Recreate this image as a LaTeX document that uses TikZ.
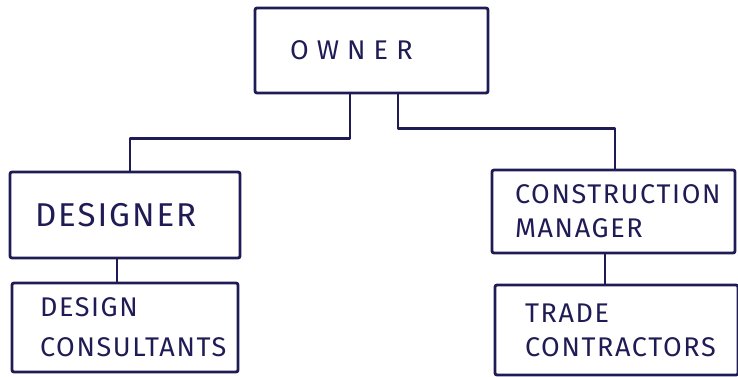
\documentclass[tikz,border=0pt]{standalone}
\usepackage{fontspec}
\setmainfont{Fira Sans}[LetterSpace=6]
\definecolor{ink}{HTML}{1F1B55}
\begin{document}
\begin{tikzpicture}[x=1pt,y=-1pt,
  box/.style={draw=ink,line width=2.8pt,rounded corners=2pt,text=ink,inner sep=0pt,
    font=\fontsize{27}{34}\selectfont,align=left},
  conn/.style={draw=ink,line width=2.8pt,line join=round}]
\useasboundingbox (0,0) rectangle (738,376);
\node[box,minimum width=233pt,minimum height=85pt,text width=163pt,
  font=\fontsize{27}{34}\selectfont\addfontfeatures{LetterSpace=30}] (owner) at (371.5,50.5) {OWNER};
\node[box,minimum width=230pt,minimum height=86pt,text width=180pt,
  font=\fontsize{33}{34}\selectfont] (designer) at (125,215) {DESIGNER};
\node[box,minimum width=226pt,minimum height=89pt,text width=170pt,
  font=\fontsize{27}{40}\selectfont] (consult) at (125,327.5) {DESIGN\\CONSULTANTS};
\node[box,minimum width=243pt,minimum height=83pt,text width=197pt] (cm) at (613.5,211.5) {CONSTRUCTION\\MANAGER};
\node[box,minimum width=243pt,minimum height=90pt,text width=183pt] (trade) at (616.5,330) {TRADE\\CONTRACTORS};
\draw[conn] ([xshift=-21.5pt]owner.south) -- ++(0,44) -| ([xshift=5pt]designer.north);
\draw[conn] ([xshift=26.5pt]owner.south) -- ++(0,34) -| ([xshift=1.5pt]cm.north);
\draw[conn] ([xshift=-8pt]designer.south) -- ([xshift=-8pt]consult.north);
\draw[conn] ([xshift=-8.5pt]cm.south) -- ([xshift=-11.5pt]trade.north);
\end{tikzpicture}
\end{document}
